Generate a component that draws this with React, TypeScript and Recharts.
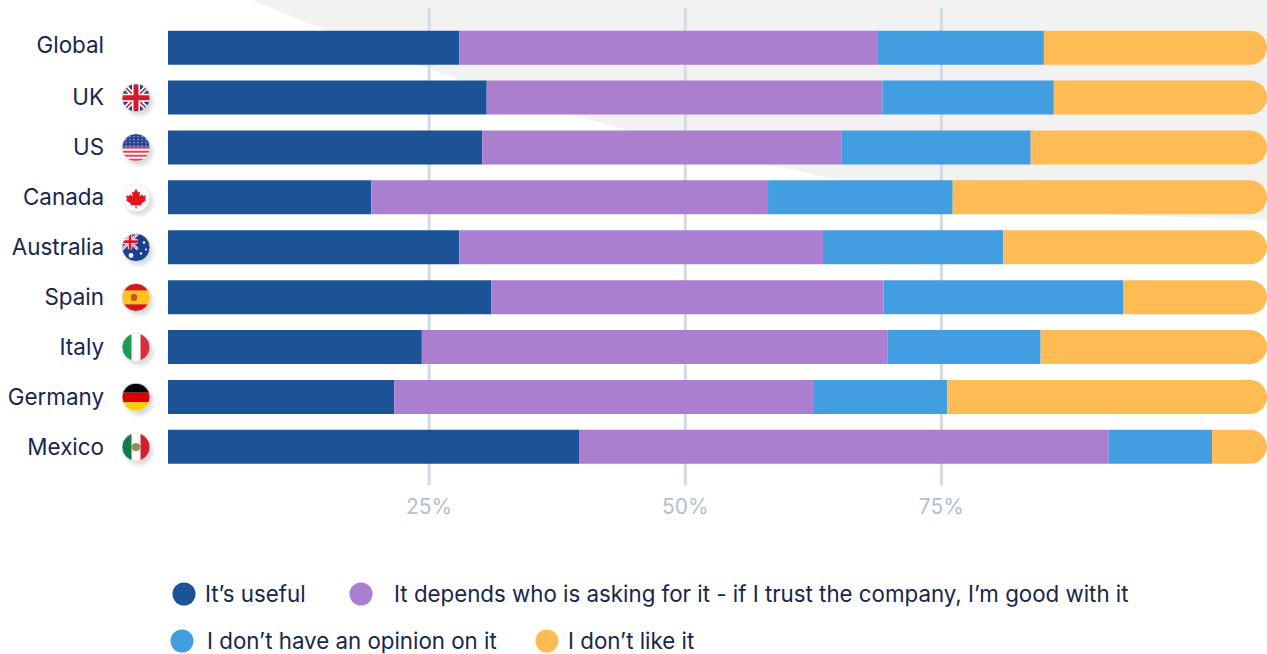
import React from 'react';
import { BarChart, Bar, XAxis, YAxis, CartesianGrid, Legend } from 'recharts';

const countries = ['Global', 'UK', 'US', 'Canada', 'Australia', 'Spain', 'Italy', 'Germany', 'Mexico'];
const useful = [26.5, 29.0, 28.6, 18.5, 26.5, 29.4, 23.1, 20.6, 37.4];
const depends = [38.1, 36.0, 32.7, 36.1, 33.1, 35.7, 42.4, 38.1, 48.2];
const noOpinion = [15.1, 15.6, 17.2, 16.8, 16.4, 21.8, 13.9, 12.2, 9.4];
const dislike = [20.3, 19.4, 21.5, 28.6, 24.0, 13.1, 20.6, 29.1, 5.0];

const gridTicks = [25, 50, 75];

const NAVY = '#1c5397';
const PURPLE = '#aa7fd0';
const BLUE = '#429ee0';
const ORANGE = '#ffbb54';
const INK = '#16274d';
const FONT = 'Inter, sans-serif';

const rows = countries.map((name, i) => ({
  name,
  useful: useful[i],
  depends: depends[i],
  noOpinion: noOpinion[i],
  dislike: dislike[i],
}));

// Little round flags next to the country names, drawn in a 28x28 box around 0,0
const Flag = ({ name }: { name: string }) => {
  const id = `flag-${name}`;
  const R = 14;
  let art: React.ReactNode = null;
  if (name === 'UK' || name === 'Australia') {
    const s = name === 'UK' ? 1 : 0.55;
    const ox = name === 'UK' ? 0 : -6;
    const oy = name === 'UK' ? 0 : -6;
    art = (
      <>
        <rect x={-R} y={-R} width={2 * R} height={2 * R} fill="#1b3f8f" />
        <g transform={`translate(${ox} ${oy}) scale(${s})`}>
          <path d="M-14-14L14 14M14-14L-14 14" stroke="#fff" strokeWidth={5} />
          <path d="M-14-14L14 14M14-14L-14 14" stroke="#d3182f" strokeWidth={1.6} />
          <path d="M0-14V14M-14 0H14" stroke="#fff" strokeWidth={8} />
          <path d="M0-14V14M-14 0H14" stroke="#d3182f" strokeWidth={5} />
        </g>
        {name === 'Australia' && (
          <>
            <circle cx={-5} cy={8} r={2.4} fill="#fff" />
            <circle cx={8} cy={-5} r={1.2} fill="#fff" />
            <circle cx={5} cy={6} r={1.2} fill="#fff" />
            <circle cx={10} cy={2} r={1} fill="#fff" />
          </>
        )}
      </>
    );
  } else if (name === 'US') {
    art = (
      <>
        <rect x={-R} y={-R} width={2 * R} height={2 * R} fill="#fff" />
        {[-1, 3, 7, 11].map((y) => (
          <rect key={y} x={-R} y={y} width={2 * R} height={2} fill="#d8475c" />
        ))}
        <rect x={-R} y={-R} width={2 * R} height={13} fill="#26418f" />
        {[-11, -8, -5, -2].map((y) =>
          [-10, -6, -2, 2, 6, 10].map((x) => <circle key={`${x}${y}`} cx={x} cy={y} r={0.6} fill="#dfe5f5" />),
        )}
      </>
    );
  } else if (name === 'Canada') {
    art = (
      <>
        <rect x={-R} y={-R} width={2 * R} height={2 * R} fill="#fff" />
        <path
          d="M0-9L2-5L4-6L3.4-1L6-3.4L7-1.6L10-2L9 1.5L10 2.6L5 6.5L5.6 8L0.6 7.4V11H-0.6V7.4L-5.6 8L-5 6.5L-10 2.6L-9 1.5L-10-2L-7-1.6L-6-3.4L-3.4-1L-4-6L-2-5Z"
          fill="#e3141c"
        />
      </>
    );
  } else if (name === 'Spain') {
    art = (
      <>
        <rect x={-R} y={-R} width={2 * R} height={2 * R} fill="#d5151f" />
        <rect x={-R} y={-7} width={2 * R} height={14} fill="#fcc41e" />
        <rect x={-5} y={-3.5} width={6} height={7} rx={2} fill="#c9572a" />
      </>
    );
  } else if (name === 'Italy' || name === 'Mexico') {
    const left = name === 'Italy' ? '#1f9b50' : '#0f7a4a';
    const right = name === 'Italy' ? '#d5313d' : '#d3202f';
    art = (
      <>
        <rect x={-R} y={-R} width={2 * R} height={2 * R} fill="#fff" />
        <rect x={-R} y={-R} width={9.5} height={2 * R} fill={left} />
        <rect x={4.5} y={-R} width={9.5} height={2 * R} fill={right} />
        {name === 'Mexico' && <ellipse cx={0} cy={0} rx={4.5} ry={4} fill="#9a8a55" />}
      </>
    );
  } else if (name === 'Germany') {
    art = (
      <>
        <rect x={-R} y={-R} width={2 * R} height={9.5} fill="#000" />
        <rect x={-R} y={-4.5} width={2 * R} height={9.5} fill="#dd0000" />
        <rect x={-R} y={5} width={2 * R} height={9} fill="#ffce00" />
      </>
    );
  }
  return (
    <g>
      <circle cx={3} cy={4} r={R} fill="#000" opacity={0.14} filter="url(#flag-shadow)" />
      <clipPath id={id}>
        <circle r={R} />
      </clipPath>
      <g clipPath={`url(#${id})`}>{art}</g>
      <circle r={R} fill="none" stroke="#e4e4e4" strokeWidth={0.8} />
    </g>
  );
};

const CountryTick = ({ y, payload }: any) => (
  <g>
    <text
      x={104}
      y={y}
      dy={payload.value === 'Global' ? 5.5 : 7.5}
      textAnchor="end"
      fontFamily={FONT}
      fontSize={22.4}
      fill={INK}
    >
      {payload.value}
    </text>
    {payload.value !== 'Global' && (
      <g transform={`translate(136 ${y})`}>
        <Flag name={payload.value} />
      </g>
    )}
  </g>
);

const legendRows = [
  [
    { label: 'It’s useful', color: NAVY, dot: 184, text: 205 },
    { label: 'It depends who is asking for it - if I trust the company, I’m good with it', color: PURPLE, dot: 361, text: 394 },
  ],
  [
    { label: 'I don’t have an opinion on it', color: BLUE, dot: 182, text: 207 },
    { label: 'I don’t like it', color: ORANGE, dot: 547, text: 568 },
  ],
];

const LegendContent = () => (
  <svg width={1267} height={110} style={{ position: 'absolute', left: 0, top: 0, display: 'block' }}>
    {legendRows.map((row, r) =>
      row.map((item) => (
        <g key={item.label}>
          <circle cx={item.dot} cy={50 + r * 47} r={11.5} fill={item.color} />
          <text x={item.text} y={58 + r * 47} fontFamily={FONT} fontSize={22.3} fill={INK}>
            {item.label}
          </text>
        </g>
      )),
    )}
  </svg>
);

export default function App() {
  return (
    <div style={{ position: 'absolute', left: 0, top: 0, width: 1267, height: 654, overflow: 'hidden', background: '#fff' }}>
      {/* grey wedge behind the upper right of the plot */}
      <div
        style={{
          position: 'absolute',
          inset: 0,
          background: '#f2f2f3',
          clipPath:
            'polygon(252px 0, 1267px 0, 1267px 220px, 1117px 215px, 960px 198px, 840px 180px, 770px 165px, 627px 130px, 577px 116px, 460px 80px, 420px 66px, 327px 31px)',
        }}
      />
      <BarChart
        width={1267}
        height={654}
        data={rows}
        layout="vertical"
        margin={{ top: 8, right: 0, bottom: 0, left: 0 }}
        barCategoryGap={7.7}
        style={{ position: 'absolute', left: 0, top: 0 }}
      >
        <defs>
          <filter id="flag-shadow" x="-30%" y="-30%" width="160%" height="160%">
            <feGaussianBlur stdDeviation={2} />
          </filter>
        </defs>
        {/* the % ticks run on their own scale, wider than the stacked bars */}
        <CartesianGrid horizontal={false} xAxisId="pct" verticalValues={gridTicks} stroke="#d3dae3" strokeWidth={3} />
        <XAxis xAxisId="share" type="number" domain={[0, 100]} hide />
        <XAxis
          xAxisId="pct"
          type="number"
          domain={[-0.49, 106.78]}
          ticks={gridTicks}
          tickFormatter={(v: number) => `${v}%`}
          axisLine={false}
          tickLine={false}
          height={59}
          tick={{ fontFamily: FONT, fontSize: 21, fill: '#b3c0d0' }}
          tickMargin={8}
          allowDataOverflow
        />
        <YAxis
          type="category"
          dataKey="name"
          width={168}
          axisLine={false}
          tickLine={false}
          interval={0}
          padding={{ top: 15, bottom: 13 }}
          tick={<CountryTick />}
        />
        <Bar dataKey="useful" xAxisId="share" stackId="a" fill={NAVY} isAnimationActive={false} />
        <Bar dataKey="depends" xAxisId="share" stackId="a" fill={PURPLE} isAnimationActive={false} />
        <Bar dataKey="noOpinion" xAxisId="share" stackId="a" fill={BLUE} isAnimationActive={false} />
        <Bar dataKey="dislike" xAxisId="share" stackId="a" fill={ORANGE} radius={[0, 17, 17, 0]} isAnimationActive={false} />
        <Legend
          content={<LegendContent />}
          verticalAlign="bottom"
          wrapperStyle={{ position: 'absolute', left: 0, top: 544, width: 1267, height: 110 }}
        />
      </BarChart>
    </div>
  );
}
